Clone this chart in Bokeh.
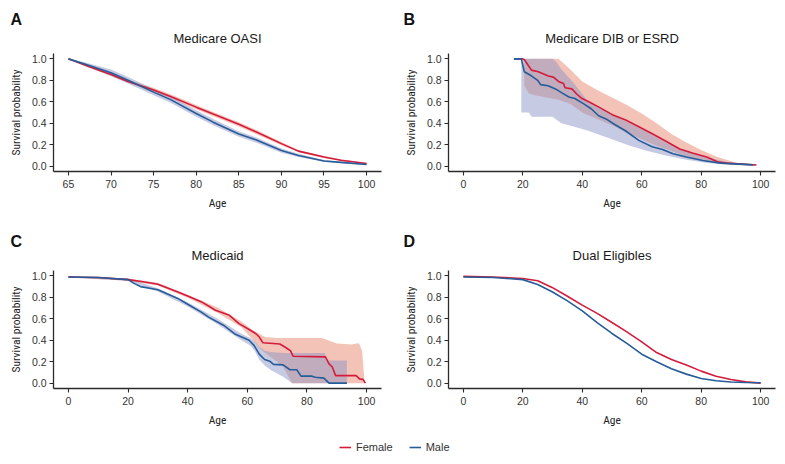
from bokeh.plotting import figure
from bokeh.models import (Range1d, FixedTicker, PrintfTickFormatter, Title,
                          Legend, LegendItem)
from bokeh.layouts import column, row
from bokeh.embed import file_html
from bokeh.resources import INLINE

# ---------------- data ----------------
y_ticks = [0.0, 0.2, 0.4, 0.6, 0.8, 1.0]
a_ticks = [65, 70, 75, 80, 85, 90, 95, 100]
age_ticks = [0, 20, 40, 60, 80, 100]

# Panel A: Medicare OASI
a_age = [65, 67, 70, 72, 75, 77, 80, 82, 85, 87, 90, 92, 95, 97, 100]
a_f = [1.0, 0.94, 0.855, 0.79, 0.71, 0.65, 0.55, 0.485, 0.39, 0.32, 0.21, 0.14, 0.085, 0.055, 0.025]
a_f_lo = [1.0, 0.93, 0.84, 0.775, 0.69, 0.63, 0.53, 0.465, 0.37, 0.30, 0.195, 0.13, 0.075, 0.048, 0.02]
a_f_hi = [1.0, 0.95, 0.87, 0.805, 0.73, 0.67, 0.57, 0.505, 0.41, 0.34, 0.225, 0.15, 0.095, 0.062, 0.03]
a_m = [1.0, 0.95, 0.87, 0.80, 0.69, 0.62, 0.49, 0.41, 0.30, 0.245, 0.145, 0.10, 0.048, 0.035, 0.015]
a_m_lo = [1.0, 0.93, 0.84, 0.77, 0.66, 0.59, 0.46, 0.38, 0.275, 0.22, 0.125, 0.085, 0.04, 0.028, 0.01]
a_m_hi = [1.0, 0.965, 0.9, 0.83, 0.72, 0.65, 0.52, 0.44, 0.325, 0.27, 0.165, 0.115, 0.058, 0.042, 0.02]

# Panel B: Medicare DIB or ESRD
b_age_f = [17, 20, 20.6, 21.8, 22.9, 25.2, 27.4, 28.6, 30.3, 32, 33.7, 34.2, 36.5, 38.2, 39.9,
           42.2, 45.6, 50.1, 54.6, 59.2, 63.7, 68.3, 72.8, 77.3, 81.9, 85.8, 88.7, 98.6]
b_f = [1.0, 1.0, 0.99, 0.94, 0.895, 0.88, 0.855, 0.84, 0.83, 0.79, 0.77, 0.73, 0.72, 0.67, 0.63,
       0.6, 0.55, 0.48, 0.43, 0.365, 0.30, 0.23, 0.16, 0.12, 0.085, 0.037, 0.028, 0.01]
b_age_m = [17, 19.5, 20.5, 23, 25, 26, 28.5, 31, 33, 35.5, 37.5, 40.5, 43, 45.5, 48, 50.5,
           54.5, 59, 63.5, 67, 70.5, 75, 80.5, 86.5, 97.5]
b_m = [1.0, 1.0, 0.88, 0.84, 0.80, 0.76, 0.75, 0.72, 0.685, 0.645, 0.63, 0.58, 0.535, 0.47, 0.44,
       0.395, 0.33, 0.24, 0.18, 0.155, 0.115, 0.085, 0.053, 0.028, 0.012]
b_band_age_f = [20.5, 22, 24, 28, 32, 36, 40, 45, 50, 55, 60, 65, 70, 75, 80, 85, 92, 98.6]
b_f_lo = [0.75, 0.68, 0.66, 0.64, 0.62, 0.58, 0.50, 0.44, 0.38, 0.31, 0.25, 0.19, 0.14, 0.09, 0.055, 0.028, 0.01, 0.005]
b_f_hi = [1.0, 1.0, 1.0, 1.0, 1.0, 0.9, 0.79, 0.71, 0.64, 0.57, 0.49, 0.40, 0.30, 0.22, 0.15, 0.09, 0.03, 0.015]
b_band_age_m = [19.5, 22, 23, 30, 31, 33, 37, 42, 50, 56, 62, 68, 75, 82, 90, 97.5]
b_m_lo = [0.50, 0.50, 0.46, 0.46, 0.44, 0.40, 0.37, 0.33, 0.25, 0.19, 0.14, 0.10, 0.06, 0.03, 0.012, 0.005]
b_m_hi = [1.0, 1.0, 1.0, 1.0, 0.98, 0.9, 0.78, 0.6, 0.48, 0.4, 0.32, 0.22, 0.14, 0.08, 0.03, 0.015]

# Panel C: Medicaid
c_age_f = [0, 10, 20, 25, 30, 36.7, 40.2, 44.7, 49.3, 53.8, 57.2, 60.6, 62.9, 64, 65.2, 70.9, 73,
           74.5, 75.4, 86.2, 87.4, 88.5, 89.6, 96.5, 97.6, 98.8, 99.6]
c_f = [0.99, 0.985, 0.965, 0.945, 0.922, 0.85, 0.81, 0.757, 0.68, 0.636, 0.555, 0.50, 0.46, 0.43,
       0.377, 0.365, 0.33, 0.30, 0.25, 0.245, 0.18, 0.15, 0.07, 0.07, 0.04, 0.035, 0.0]
c_age_m = [0, 10, 20, 22, 24.2, 30, 36.7, 40, 44.7, 47, 52, 56, 60.6, 62.3, 64, 65.8, 67.5, 68.8,
           72, 74.3, 76.6, 78, 81.7, 82.8, 85.7, 87.4, 93.4]
c_m = [0.99, 0.985, 0.965, 0.93, 0.90, 0.87, 0.79, 0.735, 0.66, 0.615, 0.54, 0.455, 0.40, 0.35,
       0.27, 0.22, 0.205, 0.175, 0.17, 0.125, 0.125, 0.065, 0.065, 0.055, 0.047, 0.0, 0.0]
c_band_age_f = [0, 20, 30, 40, 50, 58, 62, 64, 66, 70, 72, 74, 75, 85, 88, 90, 95, 96.5, 97.5, 98.5, 99.3]
c_f_lo = [0.985, 0.955, 0.91, 0.795, 0.655, 0.52, 0.40, 0.33, 0.28, 0.2, 0.15, 0.05, 0.0, 0.0,
          0.0, 0.0, 0.0, 0.0, 0.0, 0.0, 0.0]
c_f_hi = [0.995, 0.975, 0.935, 0.825, 0.705, 0.575, 0.49, 0.46, 0.43, 0.42, 0.42, 0.42, 0.42,
          0.42, 0.39, 0.37, 0.36, 0.37, 0.37, 0.30, 0.02]
c_band_age_m = [0, 20, 30, 40, 50, 58, 61, 62.5, 64, 66, 68, 70, 72, 74, 75, 86, 86.5, 93.4]
c_m_lo = [0.985, 0.955, 0.855, 0.715, 0.55, 0.40, 0.35, 0.30, 0.22, 0.16, 0.12, 0.09, 0.06, 0.02,
          0.0, 0.0, 0.0, 0.0]
c_m_hi = [0.995, 0.975, 0.885, 0.755, 0.60, 0.46, 0.42, 0.39, 0.34, 0.30, 0.29, 0.285, 0.28, 0.28,
          0.28, 0.28, 0.21, 0.21]

# Panel D: Dual Eligibles
d_age = [0, 10, 20, 25, 30, 35, 40, 45, 50, 55, 60, 65, 70, 75, 80, 85, 90, 95, 100]
d_f = [0.995, 0.99, 0.975, 0.955, 0.89, 0.81, 0.727, 0.65, 0.565, 0.478, 0.385, 0.285, 0.22,
       0.168, 0.112, 0.065, 0.034, 0.012, 0.0]
d_m = [0.99, 0.985, 0.965, 0.92, 0.85, 0.767, 0.674, 0.565, 0.463, 0.37, 0.27, 0.2, 0.134,
       0.084, 0.043, 0.022, 0.01, 0.006, 0.003]

# ---------------- style ----------------
RED = "#D51A3C"
BLUE = "#255C99"
RED_BAND = "#E9876F"
BLUE_BAND = "#8E95C6"
AX = "#2b2b2b"
SANS = "Liberation Sans"
NARROW = "Liberation Sans Narrow, Roboto Condensed, DejaVu Sans Condensed, sans-serif"


def make_panel(letter, title, xr, xticks, width, height, left, right, top, bottom,
               letter_standoff):
    p = figure(width=width, height=height, output_backend="svg", toolbar_location=None,
               x_range=Range1d(*xr), y_range=Range1d(-0.05, 1.05),
               min_border_left=left, min_border_right=right,
               min_border_top=top, min_border_bottom=bottom,
               tools="", background_fill_color="white", border_fill_color="white")
    p.outline_line_color = None
    p.grid.visible = False
    p.add_layout(Title(text=title, align="center", text_font=SANS, text_font_size="13px",
                       text_font_style="normal", text_color="#1a1a1a",
                       standoff=16), "above")
    p.add_layout(Title(text=letter, align="left", offset=-(left - 10), text_font=SANS,
                       text_font_size="16px", text_font_style="bold",
                       text_color="#111111", standoff=letter_standoff), "above")
    p.xaxis.ticker = FixedTicker(ticks=xticks)
    p.yaxis.ticker = FixedTicker(ticks=y_ticks)
    p.yaxis.formatter = PrintfTickFormatter(format="%.1f")
    p.xaxis.axis_label = "Age"
    p.yaxis.axis_label = "Survival probability"
    for ax in p.axis:
        ax.axis_line_color = AX
        ax.axis_line_width = 1.3
        ax.major_tick_line_color = AX
        ax.major_tick_line_width = 1.1
        ax.major_tick_in = 0
        ax.major_tick_out = 4
        ax.minor_tick_in = 0
        ax.minor_tick_out = 0
        ax.major_label_text_font = SANS
        ax.major_label_text_font_size = "10.5px"
        ax.major_label_text_color = "#333333"
        ax.axis_label_text_font = NARROW
        ax.axis_label_text_font_size = "11.5px"
        ax.axis_label_text_font_style = "normal"
        ax.axis_label_text_color = "#222222"
    p.xaxis.major_label_standoff = 4
    p.yaxis.major_label_standoff = 3
    p.xaxis.axis_label_standoff = 5
    p.yaxis.axis_label_standoff = 6
    return p


def add_curves(p, xf, f, xm, m, bands=None):
    if bands:
        (xbf, flo, fhi), (xbm, mlo, mhi) = bands
        p.varea(x=xbf, y1=flo, y2=fhi, fill_color=RED_BAND, fill_alpha=0.5)
        p.varea(x=xbm, y1=mlo, y2=mhi, fill_color=BLUE_BAND, fill_alpha=0.5)
    p.line(xf, f, line_color=RED, line_width=1.6)
    p.line(xm, m, line_color=BLUE, line_width=1.6)


pA = make_panel("A", "Medicare OASI", (63.25, 101.75), a_ticks, 393, 215, 53, 12, 53, 44, -14)
add_curves(pA, a_age, a_f, a_age, a_m, ((a_age, a_f_lo, a_f_hi), (a_age, a_m_lo, a_m_hi)))

pB = make_panel("B", "Medicare DIB or ESRD", (-5, 105), age_ticks, 392, 215, 55, 10, 53, 44, -14)
add_curves(pB, b_age_f, b_f, b_age_m, b_m,
           ((b_band_age_f, b_f_lo, b_f_hi), (b_band_age_m, b_m_lo, b_m_hi)))

pC = make_panel("C", "Medicaid", (-5, 105), age_ticks, 393, 223, 53, 12, 55, 50, -25)
add_curves(pC, c_age_f, c_f, c_age_m, c_m,
           ((c_band_age_f, c_f_lo, c_f_hi), (c_band_age_m, c_m_lo, c_m_hi)))

pD = make_panel("D", "Dual Eligibles", (-5, 105), age_ticks, 392, 223, 55, 10, 55, 50, -25)
add_curves(pD, d_age, d_f, d_age, d_m)

# legend strip
nan = float("nan")
pL = figure(width=785, height=26, output_backend="svg", toolbar_location=None, tools="",
            x_range=Range1d(0, 1), y_range=Range1d(0, 1),
            min_border=0, border_fill_color="white", background_fill_color="white")
pL.outline_line_color = None
pL.axis.visible = False
pL.grid.visible = False
rf = pL.line(x=[nan], y=[nan], line_color=RED, line_width=1.6)
rm = pL.line(x=[nan], y=[nan], line_color=BLUE, line_width=1.6)
leg = Legend(items=[LegendItem(label="Female", renderers=[rf]),
                    LegendItem(label="Male", renderers=[rm])],
             orientation="horizontal", location=(337, 8), padding=2, margin=0,
             spacing=16, glyph_width=12, glyph_height=14, label_height=14,
             label_standoff=5, label_text_font=SANS, label_text_font_size="11px",
             label_text_color="#333333", background_fill_alpha=0,
             border_line_alpha=0)
pL.add_layout(leg, "center")

layout = column(row(pA, pB), row(pC, pD), pL)
open("out.html", "w").write(file_html(layout, INLINE))
